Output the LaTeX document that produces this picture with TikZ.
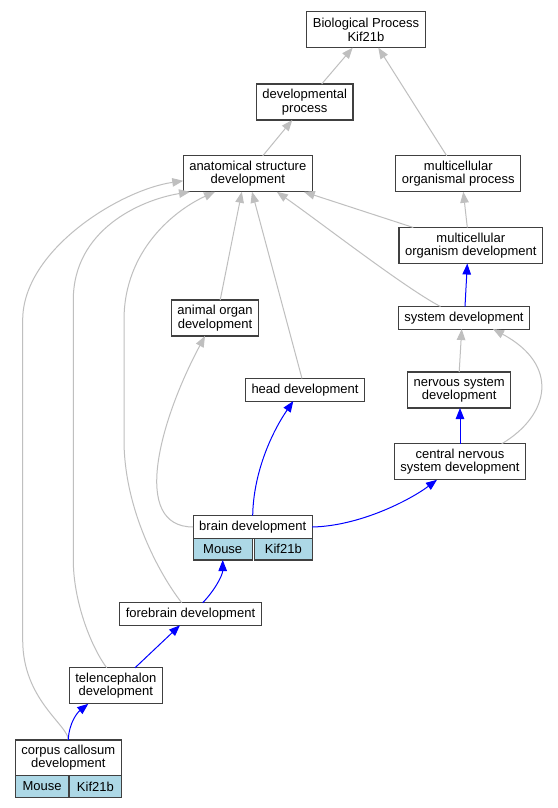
\documentclass[tikz,border=0pt]{standalone}
\usepackage{fontspec}
\setmainfont{Liberation Sans}
\usetikzlibrary{positioning, arrows.meta}
\definecolor{lightblue}{HTML}{ADD8E6}
\tikzset{x=1pt, y=-1pt, % one unit is one pixel of the layout, y runs down
term/.style={ % Sets the properties for each GO term
draw=black!75, line width=1.1pt, fill=white,
align=center, inner xsep=6pt, inner ysep=5pt, outer sep=0pt,
minimum height=22.5pt,
font=\fontsize{13pt}{13.5pt}\selectfont},
tall/.style={minimum height=36pt}, % Two lines of text
cell/.style={ % Table row below an annotated term
term, fill=lightblue, minimum height=21.7pt},
isa/.style={ % Grey links to the parents
draw=lightgray, line width=1pt,
-{Triangle[length=11pt, width=8.5pt]}},
partof/.style={ % Blue links along the annotation path
isa, draw=blue}}

\begin{document}
\begin{tikzpicture}

    \useasboundingbox (0,0) rectangle (557,808);
    \fill[white] (0,0) rectangle (557,808);

    \node[term, tall] (bio) at (366,29.7) {Biological Process\\Kif21b};
    \node[term, tall] (devproc) at (304.7,102) {developmental\\process};
    \node[term, tall] (anat) at (247.8,173.8) {anatomical structure\\development};
    \node[term, tall] (mop) at (458.3,173.8) {multicellular\\organismal process};
    \node[term, tall] (mod) at (470.8,245.5) {multicellular\\organism development};
    \node[term] (sysdev) at (464,317.8) {system development};
    \node[term, tall] (organ) at (215,318) {animal organ\\development};
    \node[term] (head) at (305,389.8) {head development};
    \node[term, tall] (nsd) at (459.2,390) {nervous system\\development};
    \node[term, tall] (cnsd) at (460,461.8) {central nervous\\system development};
    \node[term, minimum width=116.7pt, minimum height=22.6pt] (brain) at (252.7,527) {brain development};
    \node[cell, minimum width=59pt, anchor=north west] (brainmouse) at (brain.south west) {Mouse};
    \node[cell, minimum width=57.7pt, anchor=north east] (brainkif) at (brain.south east) {Kif21b};
    \node[term] (forebrain) at (190.5,614) {forebrain development};
    \node[term, tall] (telen) at (115.8,685.8) {telencephalon\\development};
    \node[term, minimum width=105.3pt, minimum height=35.7pt] (corpus) at (68.3,757.8) {corpus callosum\\development};
    \node[cell, minimum width=53.6pt, anchor=north west] (corpusmouse) at (corpus.south west) {Mouse};
    \node[cell, minimum width=51.7pt, anchor=north east] (corpuskif) at (corpus.south east) {Kif21b};

    % grey links
    \draw[isa] ([xshift=17pt]devproc.north) -- ([xshift=-13.3pt]bio.south);
    \draw[isa] ([xshift=-11.6pt]mop.north) -- ([xshift=12.3pt]bio.south);
    \draw[isa] ([xshift=15pt]anat.north) -- ([xshift=-12.4pt]devproc.south);
    \draw[isa] ([xshift=-3.5pt]mod.north) -- ([xshift=5pt]mop.south);
    \draw[isa] ([xshift=-57.5pt]mod.north) -- ([xshift=56pt]anat.south);
    \draw[isa] ([xshift=-23.5pt]sysdev.north) .. controls (405,288) and (320,222) .. ([xshift=29pt]anat.south);
    \draw[isa] ([xshift=5.2pt]organ.north) -- ([xshift=-6pt]anat.south);
    \draw[isa] ([xshift=-3pt]head.north) -- ([xshift=4.2pt]anat.south);
    \draw[isa] (brain.west) .. controls (130,527) and (160,420) .. ([xshift=-10pt]organ.south);
    \draw[isa] ([xshift=-8.8pt]forebrain.north) .. controls (160,575) and (124,510) .. (124,440)
        -- (124,320) .. controls (124,250) and (175,210) .. ([xshift=-32.8pt]anat.south);
    \draw[isa] ([xshift=-9.1pt]telen.north) .. controls (90,645) and (73.3,600) .. (73.3,560)
        -- (73.3,300) .. controls (73.3,230) and (140,200) .. ([xshift=-57.8pt]anat.south);
    \draw[isa] (corpus.north) .. controls (68.3,725) and (22.7,700) .. (22.7,640)
        -- (22.7,320) .. controls (22.7,250) and (120,190) .. ([yshift=-7pt]anat.west);
    \draw[isa] ([xshift=41.7pt]cnsd.north) .. controls (550,415) and (560,365) .. ([xshift=29pt]sysdev.south);
    \draw[isa] (nsd.north) -- ([xshift=-2.3pt]sysdev.south);

    % blue links
    \draw[partof] ([xshift=1pt]sysdev.north) -- ([xshift=-3.5pt]mod.south);
    \draw[partof] (cnsd.north) -- (cnsd.north |- nsd.south);
    \draw[partof] (brain.north) .. controls (253.3,475) and (270,435) .. ([xshift=-11.7pt]head.south);
    \draw[partof] (brain.east) .. controls (360,526) and (410,500) .. ([xshift=-23pt]cnsd.south);
    \draw[partof] ([xshift=12.2pt]forebrain.north) .. controls (215,590) and (222.7,575) .. (brainmouse.south);
    \draw[partof] ([xshift=19.2pt]telen.north) -- ([xshift=-10.5pt]forebrain.south);
    \draw[partof] (corpus.north) .. controls (69,722) and (78,712) .. ([xshift=-27.5pt]telen.south);

\end{tikzpicture}
\end{document}
